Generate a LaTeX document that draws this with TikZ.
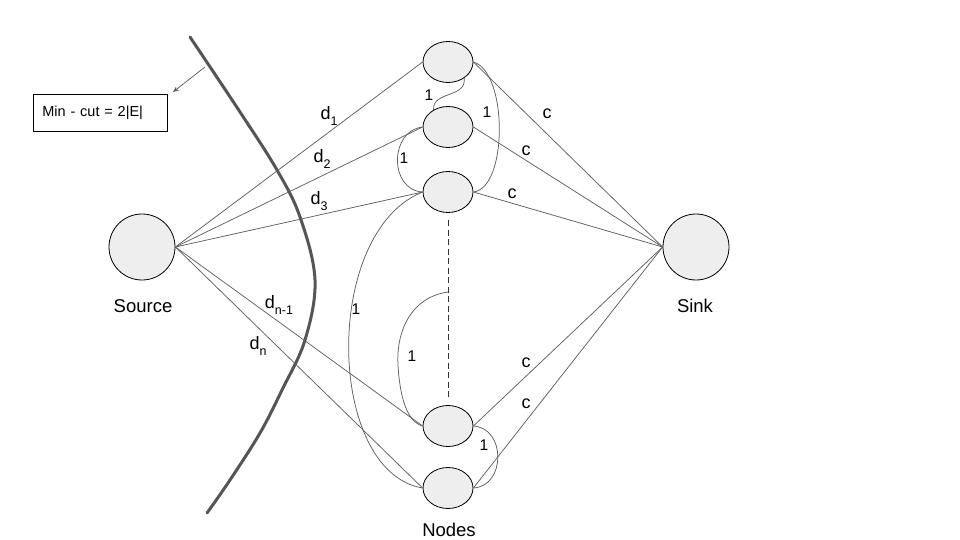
\documentclass[tikz,border=0pt]{standalone}
\usepackage{fontspec}
\setmainfont{Liberation Sans}
\usetikzlibrary{shapes.geometric,arrows.meta}
\definecolor{linegray}{RGB}{95,95,95}
\definecolor{cutgray}{RGB}{85,85,85}
\definecolor{fillgray}{RGB}{238,238,238}
\newcommand{\dsubx}[1]{\raisebox{-5.5pt}{\fontsize{12.5pt}{14pt}\selectfont #1}}
\tikzset{
  ellip/.style={ellipse, draw=black, fill=fillgray, minimum width=50pt, minimum height=41pt, inner sep=0pt, line width=0.8pt},
  bigcirc/.style={circle, draw=black, fill=fillgray, minimum size=66pt, inner sep=0pt, line width=0.8pt},
  conn/.style={draw=linegray, line width=0.75pt},
  dashline/.style={draw=black!80, line width=0.75pt, dash pattern=on 6pt off 3.5pt},
  cutline/.style={draw=cutgray, line width=3pt, line cap=round},
  arrowsty/.style={draw=linegray, line width=0.75pt, -{Stealth[length=6pt,width=5pt]}},
  lbl/.style={inner sep=0pt, font=\fontsize{18.5pt}{21pt}\selectfont},
  dlbl/.style={inner sep=0pt, font=\fontsize{18pt}{20pt}\selectfont},
  onelbl/.style={inner sep=0pt, font=\fontsize{15.5pt}{17pt}\selectfont},
}
\begin{document}
\begin{tikzpicture}[x=1pt,y=-1pt]
\useasboundingbox (0,0) rectangle (960,540);

% cut curve
\draw[cutline] plot[smooth, tension=0.6] coordinates {(190,37) (240,112) (277,170) (300,217) (315,280) (305,340) (282,390) (260,433) (230,480) (207,513)};

% main nodes
\node[bigcirc] (src) at (142,247) {};
\node[bigcirc] (snk) at (696,247) {};
\node[ellip] (n1) at (448,62) {};
\node[ellip] (n2) at (448,127) {};
\node[ellip] (n3) at (448,192) {};
\node[ellip] (n4) at (448,426) {};
\node[ellip] (n5) at (448,488) {};

% source edges
\foreach \n in {n1,n2,n3,n4,n5} {
  \draw[conn] (src.east) -- (\n.west);
  \draw[conn] (\n.east) -- (snk.west);
}

% unit edges
\draw[conn] (n1.-45) .. controls (467,98) and (432,91) .. (n2.130);
\draw[conn] (n2.west) .. controls (389,131) and (389,190) .. (n3.west);
\draw[conn] (n1.east) .. controls (508,72) and (508,188) .. (n3.east);
\draw[conn] (n3.west) .. controls (322,232) and (326,472) .. (n5.west);
\coordinate (dtop) at (448,220);
\coordinate (dbot) at (448,398);
\coordinate (dm) at (448,292);
\draw[dashline] (dtop) -- (dbot);
\draw[conn] (dm) .. controls (412,297) and (396,330) .. (398,365) .. controls (400,400) and (408,422) .. (n4.west);
\draw[conn] (n4.east) .. controls (506,428) and (506,486) .. (n5.east);

% min-cut box and arrow
\node[draw=black, line width=0.8pt, anchor=west, minimum height=37pt, text width=116pt, inner xsep=9pt, align=left,
      font=\fontsize{14.5pt}{16pt}\selectfont] (box) at (33,112.5) {Min - cut = 2|E|};
\coordinate (arrS) at (205,67);
\coordinate (arrE) at (173,92);
\draw[arrowsty] (arrS) -- (arrE);

% labels
\node[lbl] (tsrc) at (143,306) {Source};
\node[lbl] (tsnk) at (695,306) {Sink};
\node[lbl] (tnod) at (449,530) {Nodes};

\node[dlbl] (d1) at (329,116) {d\dsubx{1}};
\node[dlbl] (d2) at (322,159) {d\dsubx{2}};
\node[dlbl] (d3) at (319,201) {d\dsubx{3}};
\node[dlbl] (dn1) at (279,305) {d\dsubx{n-1}};
\node[dlbl] (dn) at (258,346) {d\dsubx{n}};

\node[dlbl] (c1) at (547,114) {c};
\node[dlbl] (c2) at (526,151) {c};
\node[dlbl] (c3) at (512,194) {c};
\node[dlbl] (c4) at (526,363) {c};
\node[dlbl] (c5) at (526,404) {c};

\node[onelbl] (o1) at (429,95) {1};
\node[onelbl] (o2) at (404,158) {1};
\node[onelbl] (o3) at (487,112) {1};
\node[onelbl] (o4) at (356,309) {1};
\node[onelbl] (o5) at (412,356) {1};
\node[onelbl] (o6) at (484,445) {1};
\end{tikzpicture}
\end{document}
